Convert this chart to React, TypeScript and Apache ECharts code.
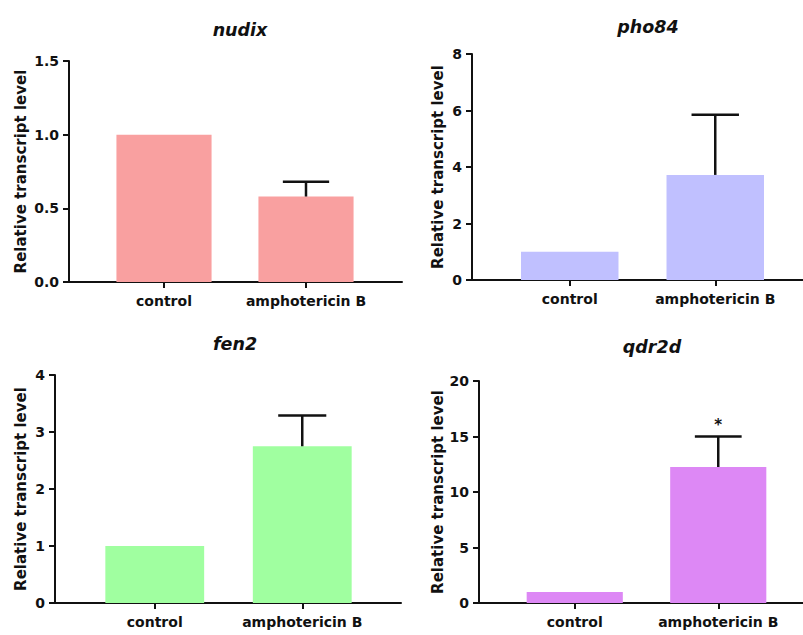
import React, { useEffect, useRef } from "react";
import * as echarts from "echarts";

const categories = ["control", "amphotericin B"];
const genes = ["nudix", "pho84", "fen2", "qdr2d"];

const nudixMeans = [1.0, 0.58];
const nudixSem = [0, 0.1];
const pho84Means = [1.0, 3.72];
const pho84Sem = [0, 2.13];
const fen2Means = [1.0, 2.75];
const fen2Sem = [0, 0.54];
const qdr2dMeans = [1.0, 12.25];
const qdr2dSem = [0, 2.75];

const nudixSig = ["", ""];
const pho84Sig = ["", ""];
const fen2Sig = ["", ""];
const qdr2dSig = ["", "*"];

const yMaxes = [1.5, 8, 4, 20];
const yIntervals = [0.5, 2, 1, 5];
const yDecimals = [1, 0, 0, 0];
const yAxisName = "Relative transcript level";

const barColors = ["#F9A0A0", "#C0C0FF", "#A0FFA0", "#DD88F5"];

const panelMeans = [nudixMeans, pho84Means, fen2Means, qdr2dMeans];
const panelSem = [nudixSem, pho84Sem, fen2Sem, qdr2dSem];
const panelSig = [nudixSig, pho84Sig, fen2Sig, qdr2dSig];

// layout (pixels)
const layout = [
  { axisX: 69, top: 61, bottom: 282, left: 93, right: 377, end: 402, tx: 235, ty: 25, nameGap: 41 },
  { axisX: 472, top: 54, bottom: 280, left: 497, right: 788, end: 803, tx: 643, ty: 22, nameGap: 27 },
  { axisX: 55, top: 375, bottom: 603, left: 81, right: 376, end: 401, tx: 230, ty: 339, nameGap: 27 },
  { axisX: 479, top: 381, bottom: 603, left: 503, right: 790, end: 803, tx: 647, ty: 342, nameGap: 34 },
];

const FONT = "DejaVu Sans";
const INK = "#111111";

export default function App() {
  const ref = useRef<HTMLDivElement>(null);

  useEffect(() => {
    document.body.style.margin = "0";
    if (!ref.current) return;
    const chart = echarts.init(ref.current, null, { renderer: "svg" });

    const grid: any[] = [];
    const xAxis: any[] = [];
    const yAxis: any[] = [];
    const series: any[] = [];
    const title: any[] = [];

    genes.forEach((gene, k) => {
      const L = layout[k];
      const mainIdx = grid.length;
      grid.push({ left: L.left, top: L.top, width: L.right - L.left, height: L.bottom - L.top });
      const baseIdx = grid.length;
      grid.push({ left: L.axisX, top: L.top, width: L.end - L.axisX, height: L.bottom - L.top });

      title.push({
        text: gene,
        left: L.tx,
        top: L.ty,
        textAlign: "center",
        textVerticalAlign: "middle",
        textStyle: { fontFamily: FONT, fontStyle: "italic", fontWeight: "bold", fontSize: 17.5, color: INK },
      });

      xAxis.push({
        type: "category",
        gridIndex: mainIdx,
        data: categories,
        axisLine: { show: false },
        axisTick: { show: true, interval: 0, alignWithLabel: true, length: 6, lineStyle: { color: INK, width: 2 } },
        axisLabel: { interval: 0, fontFamily: FONT, fontWeight: "bold", fontSize: 14, color: INK, margin: 12 },
        splitLine: { show: false },
      });
      yAxis.push({
        type: "value",
        gridIndex: mainIdx,
        min: 0,
        max: yMaxes[k],
        interval: yIntervals[k],
        offset: L.left - L.axisX,
        name: yAxisName,
        nameLocation: "middle",
        nameGap: L.nameGap,
        nameTextStyle: { fontFamily: FONT, fontWeight: "bold", fontSize: 15, color: INK },
        axisLine: { show: true, lineStyle: { color: INK, width: 2 } },
        axisTick: { show: true, length: 6, lineStyle: { color: INK, width: 2 } },
        axisLabel: {
          fontFamily: FONT,
          fontWeight: "bold",
          fontSize: 14,
          color: INK,
          margin: 10,
          formatter: (v: number) => v.toFixed(yDecimals[k]),
        },
        splitLine: { show: false },
      });

      // baseline axis spanning from y axis to panel end
      xAxis.push({
        type: "value",
        gridIndex: baseIdx,
        min: 0,
        max: 1,
        axisLine: { show: true, onZero: false, lineStyle: { color: INK, width: 2 } },
        axisTick: { show: false },
        axisLabel: { show: false },
        splitLine: { show: false },
      });
      yAxis.push({ type: "value", gridIndex: baseIdx, show: false, min: 0, max: 1, splitLine: { show: false } });

      const means = panelMeans[k];
      const sem = panelSem[k];
      const sig = panelSig[k];

      series.push({
        type: "bar",
        xAxisIndex: mainIdx,
        yAxisIndex: mainIdx,
        barWidth: "67%",
        data: means,
        itemStyle: { color: barColors[k] },
        silent: true,
      });
      series.push({
        type: "custom",
        xAxisIndex: mainIdx,
        yAxisIndex: mainIdx,
        z: 5,
        silent: true,
        data: means.map((m, i) => [i, m, m + sem[i]]),
        encode: { x: 0, y: [1, 2] },
        renderItem: (params: any, api: any) => {
          const i = api.value(0);
          const m = api.value(1);
          const t = api.value(2);
          const children: any[] = [];
          const p0 = api.coord([i, m]);
          const p1 = api.coord([i, t]);
          const half = api.size([1, 0])[0] * 0.163;
          if (t > m) {
            children.push({
              type: "line",
              shape: { x1: p0[0], y1: p0[1], x2: p1[0], y2: p1[1] },
              style: { stroke: INK, lineWidth: 2.5 },
            });
            children.push({
              type: "line",
              shape: { x1: p1[0] - half, y1: p1[1], x2: p1[0] + half, y2: p1[1] },
              style: { stroke: INK, lineWidth: 2.5 },
            });
          }
          const s = sig[params.dataIndex];
          if (s) {
            children.push({
              type: "text",
              style: {
                x: p1[0],
                y: p1[1] - 12,
                text: s,
                textAlign: "center",
                textVerticalAlign: "middle",
                fontFamily: FONT,
                fontWeight: "bold",
                fontSize: 15,
                fill: INK,
              },
            });
          }
          return { type: "group", children };
        },
      });
    });

    chart.setOption({
      animation: false,
      backgroundColor: "#ffffff",
      title,
      grid,
      xAxis,
      yAxis,
      series,
    });

    return () => chart.dispose();
  }, []);

  return <div ref={ref} style={{ width: 803, height: 635 }} />;
}
